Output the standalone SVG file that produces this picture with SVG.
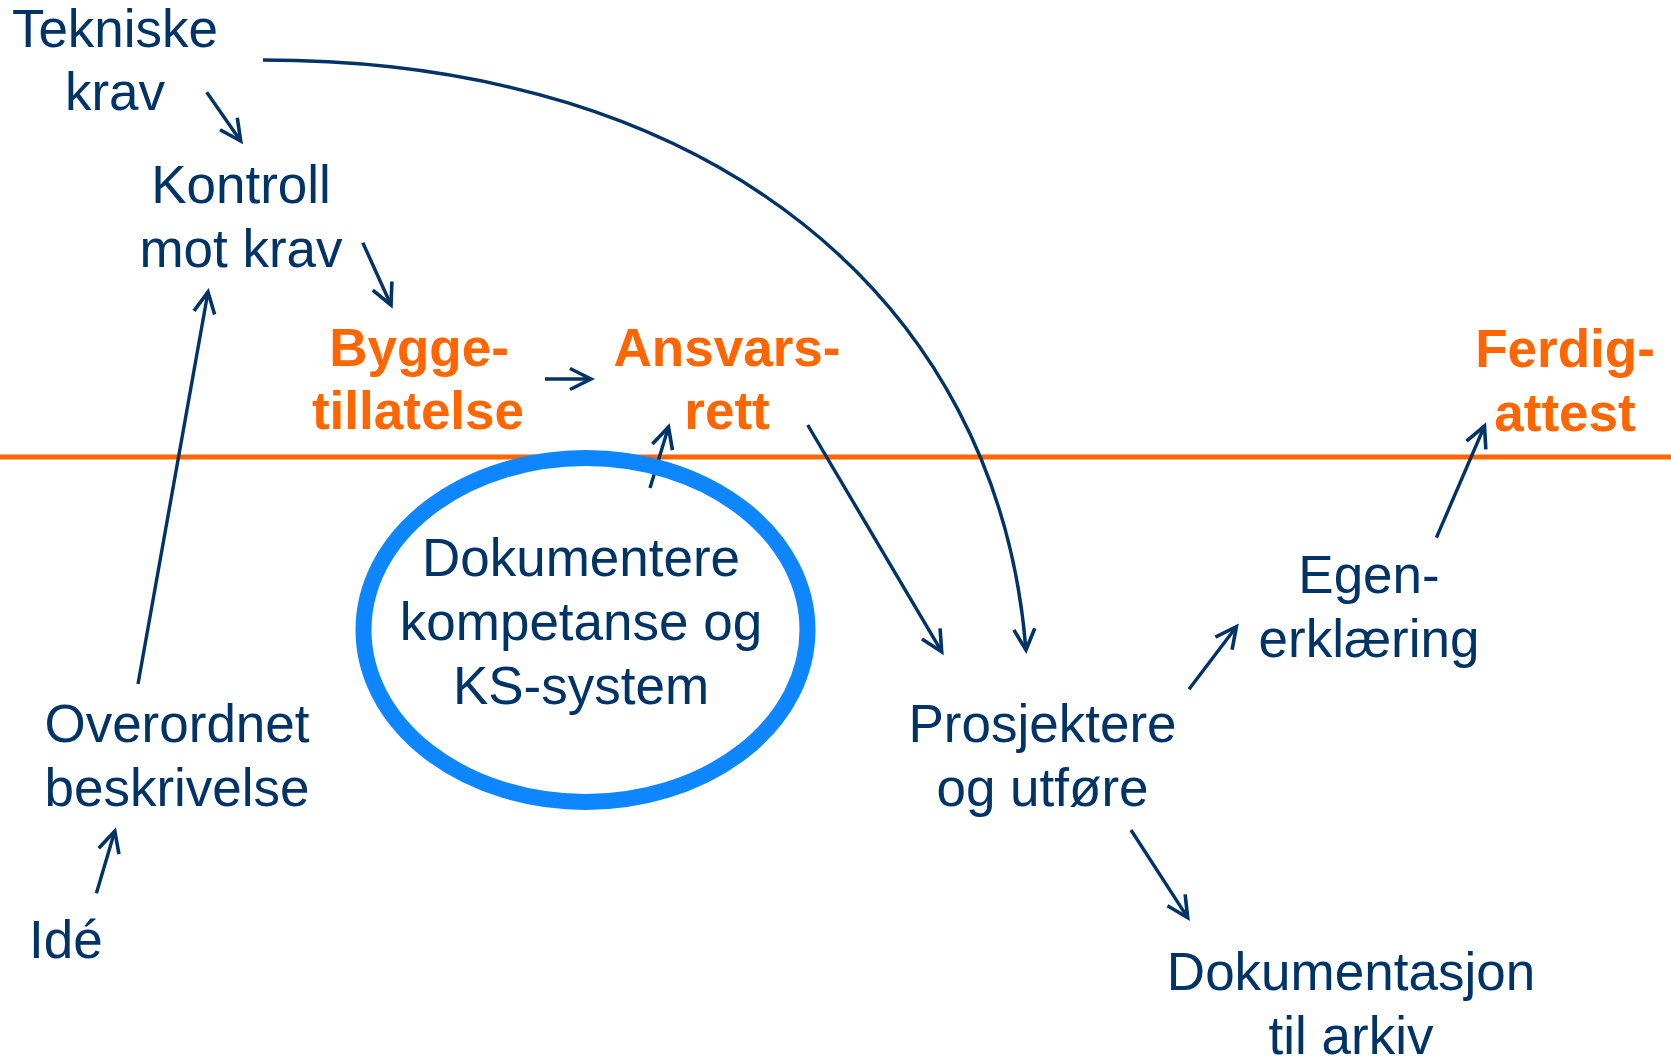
<svg xmlns="http://www.w3.org/2000/svg" width="1671" height="1056" viewBox="0 0 1671 1056">
<style>
text{font-family:"Liberation Sans",Arial,sans-serif;font-size:53px;text-anchor:middle}
.n{fill:#003366}
.o{fill:#FF6600;font-weight:bold}
.c{fill:none;stroke:#003366;stroke-width:3.4}
</style>
<defs>
<marker id="ah" markerUnits="userSpaceOnUse" markerWidth="40" markerHeight="40" refX="0" refY="0" orient="auto" overflow="visible">
<path d="M-21,-10.5 L0,0 L-21,10.5" fill="none" stroke="#003366" stroke-width="3.6" stroke-linejoin="miter"/>
</marker>
</defs>
<rect width="1671" height="1056" fill="#ffffff"/>
<line id="divider" x1="0" y1="457" x2="1671" y2="457" stroke="#FF6600" stroke-width="5"/>
<g id="connectors">
<path class="c" d="M206.7,92.3 L240.7,141" marker-end="url(#ah)"/>
<path class="c" d="M362.8,242.7 L391,305" marker-end="url(#ah)"/>
<path class="c" d="M138,684 L208,292" marker-end="url(#ah)"/>
<path class="c" d="M96.4,893.3 L114.8,831" marker-end="url(#ah)"/>
<path class="c" d="M545,379 L591,379" marker-end="url(#ah)"/>
<path class="c" d="M650,488 L668.5,427" marker-end="url(#ah)"/>
<path class="c" d="M807.7,425 L941.7,651.7" marker-end="url(#ah)"/>
<path class="c" d="M263,60 C713,60 998,300 1026,650" marker-end="url(#ah)"/>
<path class="c" d="M1189,689.3 L1236.4,626.7" marker-end="url(#ah)"/>
<path class="c" d="M1436.4,537.7 L1484.5,426" marker-end="url(#ah)"/>
<path class="c" d="M1131,830 L1187.7,917.7" marker-end="url(#ah)"/>
</g>
<g id="tekniske"><text class="n" x="115" y="47">Tekniske</text><text class="n" x="115" y="110">krav</text></g>
<g id="kontroll"><text class="n" x="241" y="203">Kontroll</text><text class="n" x="241" y="267">mot krav</text></g>
<g id="bygge"><text class="o" x="419" y="366">Bygge-</text><text class="o" x="418" y="429">tillatelse</text></g>
<g id="ansvar"><text class="o" x="727" y="366">Ansvars-</text><text class="o" x="727" y="429">rett</text></g>
<g id="ferdig"><text class="o" x="1565" y="367">Ferdig-</text><text class="o" x="1565" y="431">attest</text></g>
<g id="dokumentere">
<ellipse cx="585.5" cy="630" rx="222" ry="172" fill="none" stroke="#0D86FF" stroke-width="16"/>
<text class="n" x="581" y="576">Dokumentere</text><text class="n" x="581" y="640">kompetanse og</text><text class="n" x="581" y="704">KS-system</text>
</g>
<g id="overordnet"><text class="n" x="177" y="742">Overordnet</text><text class="n" x="177" y="806">beskrivelse</text></g>
<g id="ide"><text class="n" x="29" y="958" style="text-anchor:start">Idé</text></g>
<g id="prosjektere"><text class="n" x="1042.5" y="742">Prosjektere</text><text class="n" x="1042.5" y="806">og utføre</text></g>
<g id="egen"><text class="n" x="1369" y="593">Egen-</text><text class="n" x="1369" y="657">erklæring</text></g>
<g id="dokumentasjon"><text class="n" x="1351" y="990">Dokumentasjon</text><text class="n" x="1351" y="1054">til arkiv</text></g>
</svg>
